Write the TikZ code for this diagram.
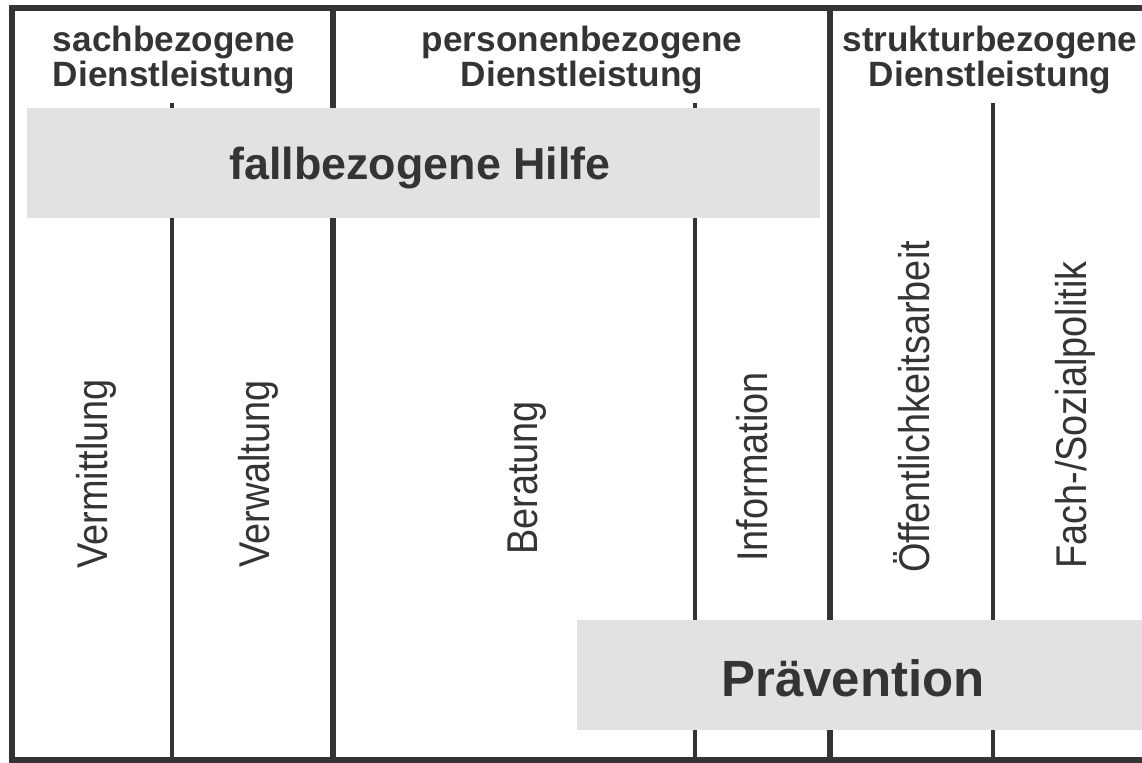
\documentclass[tikz,border=0pt]{standalone}
\usepackage{fontspec}
\setmainfont{Liberation Sans}
\newfontfamily\narrowsans[FakeStretch=0.88]{Liberation Sans}
\usepackage{tikz}

\definecolor{ink}{RGB}{52,52,52}
\definecolor{bandgray}{RGB}{226,226,226}

\tikzset{
  head/.style={font=\bfseries\fontsize{20}{18.5}\selectfont, text=ink, align=center, inner sep=0pt},
  bandtext/.style={font=\bfseries\fontsize{25.5}{28}\selectfont, text=ink, inner sep=0pt},
  area/.style={font=\narrowsans\fontsize{24.5}{27}\selectfont, text=ink, rotate=90, inner sep=0pt},
  frame/.style={draw=ink, line width=3.6pt},
  main/.style={draw=ink, line width=3pt},
  sub/.style={draw=ink, line width=2pt}
}

\begin{document}
\begin{tikzpicture}[x=0.02cm, y=-0.02cm]
  \useasboundingbox (0, 0) rectangle (1142, 763);
  \draw[sub] (172, 103) -- (172, 760) (695, 103) -- (695, 760) (993, 103) -- (993, 760);
  \draw[main] (333, 8) -- (333, 760) (830, 8) -- (830, 760);
  \draw[frame] (1142, 8) -- (12, 8) -- (12, 760) -- (1142, 760);

  \fill[bandgray] (27, 108) rectangle (820, 218);
  \fill[bandgray] (577, 620) rectangle (1142, 730);

  \node[head] (sach) at (174, 60) {sachbezogene\\Dienstleistung};
  \node[head] (person) at (582, 60) {personenbezogene\\Dienstleistung};
  \node[head] (struktur) at (990, 60) {strukturbezogene\\Dienstleistung};

  \node[bandtext] (fall) at (420, 168) {fallbezogene Hilfe};
  \node[bandtext, font=\bfseries\fontsize{29}{32}\selectfont] (praev) at (853, 678) {Prävention};

  \node[area] (vermittlung) at (96, 474) {Vermittlung};
  \node[area] (verwaltung) at (258, 474) {Verwaltung};
  \node[area] (beratung) at (527, 478) {Beratung};
  \node[area] (information) at (752, 467) {Information};
  \node[area] (oeffentlich) at (912, 407) {Öffentlichkeitsarbeit};
  \node[area] (politik) at (1075, 415) {Fach-/Sozialpolitik};
\end{tikzpicture}
\end{document}
